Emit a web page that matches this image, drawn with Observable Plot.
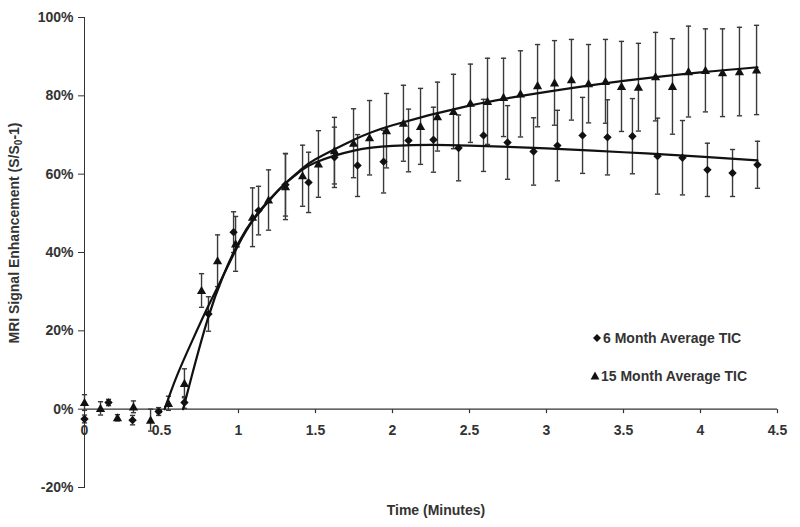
<!DOCTYPE html>
<html>
<head>
<meta charset="utf-8">
<script src="https://cdn.jsdelivr.net/npm/d3@7"></script>
<script src="https://cdn.jsdelivr.net/npm/@observablehq/plot@0.6"></script>
<style>
  html, body { margin: 0; padding: 0; background: #fff; }
  #chart { width: 800px; height: 527px; }
</style>
</head>
<body>
<div id="chart"></div>
<script>
// ---- Data ----
// 6 Month Average TIC (diamonds)
const t6 = [0, 0.156, 0.312, 0.481, 0.649, 0.805, 0.968, 1.130, 1.305, 1.455, 1.623, 1.773, 1.942, 2.104, 2.266, 2.429, 2.591, 2.747, 2.916, 3.071, 3.234, 3.396, 3.558, 3.721, 3.883, 4.045, 4.208, 4.370];
const v6 = [-2.5, 1.7, -2.8, -0.6, 1.7, 24.3, 45.2, 50.7, 57.3, 57.9, 64.3, 62.2, 63.2, 68.6, 68.8, 66.7, 69.9, 68.1, 65.8, 67.3, 69.9, 69.4, 69.7, 64.6, 64.2, 61.1, 60.3, 62.4];
const e6 = [1, 0.8, 1.2, 1, 1.5, 4.4, 5.2, 6.2, 8, 7.7, 7.7, 7.9, 8, 8, 8.3, 8.4, 9.2, 9.4, 8.6, 9, 9.7, 9.6, 9.6, 9.7, 9.5, 6.8, 6, 6];

// 15 Month Average TIC (triangles)
const t15 = [0, 0.104, 0.214, 0.318, 0.429, 0.545, 0.649, 0.760, 0.864, 0.981, 1.091, 1.195, 1.305, 1.416, 1.519, 1.623, 1.747, 1.851, 1.961, 2.071, 2.182, 2.292, 2.396, 2.506, 2.617, 2.721, 2.831, 2.942, 3.052, 3.162, 3.273, 3.383, 3.487, 3.597, 3.708, 3.818, 3.922, 4.032, 4.143, 4.253, 4.364];
const v15 = [1.7, 0.2, -2.2, 0.6, -2.8, 1.5, 6.6, 30.3, 37.9, 42.2, 49, 53.4, 56.8, 59.6, 62.6, 66, 67.9, 69.3, 71.1, 73.0, 72.2, 74.7, 76, 78.1, 78.6, 79.6, 80.5, 82.6, 83.3, 84.1, 83.1, 83.7, 82.4, 82.2, 84.9, 82.4, 86.2, 86.5, 85.9, 86.2, 86.6];
const e15 = [2, 1.7, 0.8, 1.5, 2.8, 1.8, 3.7, 4.3, 6.6, 7, 7.5, 7.7, 8.4, 7.8, 8.5, 8.5, 8.8, 9.5, 9.5, 9.7, 9.7, 8.8, 9.5, 10, 11, 10, 11, 10.5, 10.8, 10.3, 10, 10.7, 11.5, 11.2, 11.3, 12.2, 11.6, 10.6, 11.2, 11.3, 11.4];

// Fitted curves
const fit6T = [0.64, 0.7, 0.8, 0.9, 1.0, 1.1, 1.2, 1.3, 1.4, 1.5, 1.75, 2.0, 2.25, 2.5, 3.0, 3.5, 4.0, 4.37];
const fit6V = [0, 9, 23, 34, 42.5, 48.8, 53.5, 57.5, 60.7, 63, 66, 67.2, 67.5, 67.3, 66.6, 65.6, 64.5, 63.5];
const fit15T = [0.52, 0.6, 0.7, 0.8, 0.9, 1.0, 1.1, 1.2, 1.3, 1.4, 1.5, 1.75, 2.0, 2.5, 3.0, 3.5, 4.0, 4.37];
const fit15V = [0, 8.5, 17.5, 26, 34, 42, 48.5, 53.3, 57.5, 61, 63.8, 68.8, 72.5, 77.5, 81, 83.8, 86, 87.3];

// Axis ticks
const xTicks = [0, 0.5, 1, 1.5, 2, 2.5, 3, 3.5, 4, 4.5];
const yTicks = [-20, 0, 20, 40, 60, 80, 100];

const series6 = t6.map((t, i) => ({t, v: v6[i], e: e6[i]}));
const series15 = t15.map((t, i) => ({t, v: v15[i], e: e15[i]}));
const fit6 = fit6T.map((t, i) => ({t, v: fit6V[i]}));
const fit15 = fit15T.map((t, i) => ({t, v: fit15V[i]}));

// ---- Custom symbols ----
const capSym = {draw(ctx, size) { const r = Math.sqrt(size / Math.PI); ctx.moveTo(-r, 0); ctx.lineTo(r, 0); }};
const tickSym = {draw(ctx, size) { const r = Math.sqrt(size / Math.PI); ctx.moveTo(0, 0); ctx.lineTo(0, r); }};
const diamondSym = {draw(ctx, size) { const r = Math.sqrt(size / Math.PI); ctx.moveTo(0, -r); ctx.lineTo(r, 0); ctx.lineTo(0, r); ctx.lineTo(-r, 0); ctx.closePath(); }};
const triSym = {draw(ctx, size) { const r = Math.sqrt(size / Math.PI); ctx.moveTo(0, -r); ctx.lineTo(r, r * 0.78); ctx.lineTo(-r, r * 0.78); ctx.closePath(); }};

const barColor = "#3a3a3a";
const ink = "#111";

function errorMarks(data) {
  return [
    Plot.ruleX(data, {x: "t", y1: d => d.v - d.e, y2: d => d.v + d.e, stroke: barColor, strokeWidth: 1.4}),
    Plot.dot(data, {x: "t", y: d => d.v + d.e, symbol: capSym, r: 2.6, fill: "none", stroke: barColor, strokeWidth: 1.4}),
    Plot.dot(data, {x: "t", y: d => d.v - d.e, symbol: capSym, r: 2.6, fill: "none", stroke: barColor, strokeWidth: 1.4})
  ];
}

const chart = Plot.plot({
  width: 800,
  height: 527,
  marginLeft: 84,
  marginRight: 23,
  marginTop: 17,
  marginBottom: 40,
  style: {fontFamily: "'Liberation Sans', Arial, sans-serif", fontSize: "14px", fontWeight: "bold", color: "#333", background: "#fff"},
  x: {domain: [0, 4.5], axis: null},
  y: {domain: [-20, 100], ticks: yTicks, tickFormat: d => d + "%", tickSize: 6, tickPadding: 5, line: true, label: null},
  marks: [
    Plot.ruleY([0], {stroke: "#333", strokeWidth: 1.2}),
    Plot.dot(xTicks, {x: d => d, y: 0, symbol: tickSym, r: 4, fill: "none", stroke: "#333", strokeWidth: 1.2}),
    Plot.text(xTicks, {x: d => d, y: 0, text: d => String(d), dy: 21, fill: "#333", fontSize: 14, fontWeight: "bold"}),
    ...errorMarks(series15),
    ...errorMarks(series6),
    Plot.line(fit15, {x: "t", y: "v", curve: "natural", stroke: ink, strokeWidth: 2.2}),
    Plot.line(fit6, {x: "t", y: "v", curve: "natural", stroke: ink, strokeWidth: 2.2}),
    Plot.dot(series15, {x: "t", y: "v", symbol: triSym, r: 4.6, fill: ink, stroke: "none"}),
    Plot.dot(series6, {x: "t", y: "v", symbol: diamondSym, r: 4.2, fill: ink, stroke: "none"})
  ]
});

document.getElementById("chart").appendChild(chart);

// ---- Titles and legend (real SVG text) ----
const svg = d3.select(chart);
const font = "'Liberation Sans', Arial, sans-serif";

// y axis title with subscript
const yl = svg.append("text")
  .attr("transform", "translate(19,233) rotate(-90)")
  .attr("text-anchor", "middle")
  .attr("font-family", font).attr("font-size", 14).attr("font-weight", "bold").attr("fill", "#333");
yl.append("tspan").text("MRI Signal Enhancement (S/S");
yl.append("tspan").attr("font-size", 10).attr("dy", 3).text("0");
yl.append("tspan").attr("dy", -3).text("-1)");

// x axis title
svg.append("text")
  .attr("x", 436).attr("y", 515)
  .attr("text-anchor", "middle")
  .attr("font-family", font).attr("font-size", 14).attr("font-weight", "bold").attr("fill", "#333")
  .text("Time (Minutes)");

// legend
const lg = svg.append("g").attr("font-family", font).attr("font-size", 14).attr("font-weight", "bold").attr("fill", "#333").attr("text-anchor", "start");
lg.append("path").attr("d", d3.symbol(diamondSym, 4 * 4 * Math.PI)()).attr("transform", "translate(597,338)").attr("fill", ink);
lg.append("text").attr("x", 603).attr("y", 343).attr("text-anchor", "start").text("6 Month Average TIC");
lg.append("path").attr("d", d3.symbol(triSym, 4.4 * 4.4 * Math.PI)()).attr("transform", "translate(595,376)").attr("fill", ink);
lg.append("text").attr("x", 601).attr("y", 381).attr("text-anchor", "start").text("15 Month Average TIC");
</script>
</body>
</html>
